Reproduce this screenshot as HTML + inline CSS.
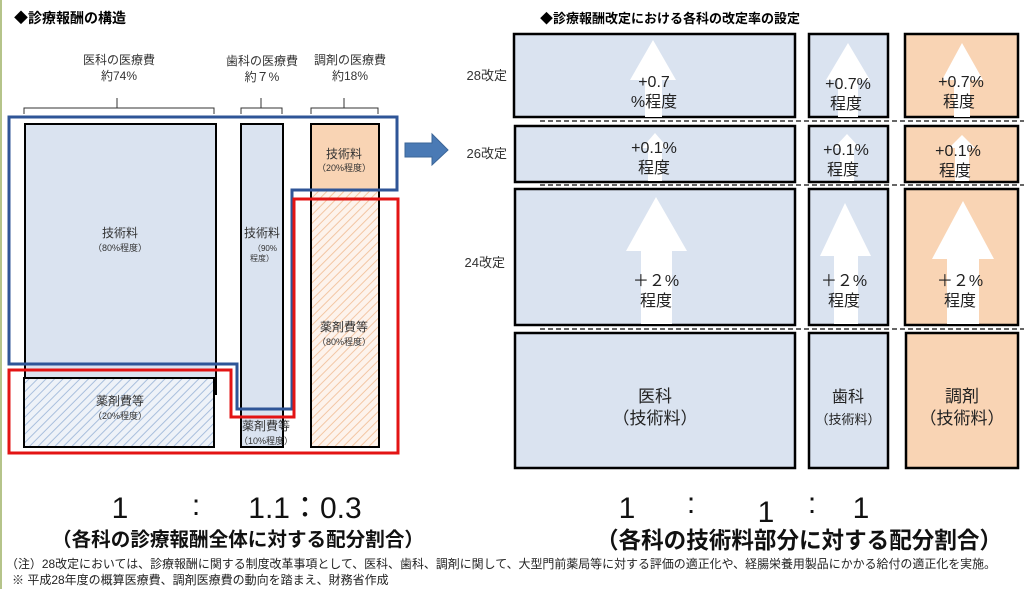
<!DOCTYPE html>
<html><head><meta charset="utf-8"><style>
html,body{margin:0;padding:0;background:#fff;}
svg{display:block;font-family:"Liberation Sans","Noto Sans CJK JP",sans-serif;}
</style></head><body>
<svg width="1024" height="589" viewBox="0 0 1024 589" xmlns="http://www.w3.org/2000/svg">
<defs>
<pattern id="hb" patternUnits="userSpaceOnUse" width="6" height="6" patternTransform="rotate(45)"><rect width="6" height="6" fill="#eef2f8"/><line x1="0" y1="0" x2="0" y2="6" stroke="#a9bfdd" stroke-width="2"/></pattern>
<pattern id="ho" patternUnits="userSpaceOnUse" width="6" height="6" patternTransform="rotate(45)"><rect width="6" height="6" fill="#fdf3ec"/><line x1="0" y1="0" x2="0" y2="6" stroke="#f3c6a4" stroke-width="2"/></pattern>
</defs>
<rect x="0" y="0" width="2" height="589" fill="#b5c48a"/>
<text x="14" y="23" font-size="14" font-weight="bold" fill="#000">◆診療報酬の構造</text>
<g font-size="12" fill="#333" text-anchor="middle">
<text x="119" y="64">医科の医療費</text><text x="119" y="80">約74%</text>
<text x="262" y="65">歯科の医療費</text><text x="262" y="81">約７%</text>
<text x="350" y="64">調剤の医療費</text><text x="350" y="80">約18%</text>
</g>
<g fill="none" stroke="#333" stroke-width="1">
<path d="M24 114 V108 H117 V98 M117 108 H214 V114"/>
<path d="M241 114 V108 H261 V98 M261 108 H282 V114"/>
<path d="M311 114 V108 H344 V98 M344 108 H378 V114"/>
</g>
<rect x="25" y="124" width="191" height="270" fill="#dae3f0" stroke="#000" stroke-width="2"/>
<rect x="24" y="378" width="190" height="69" fill="url(#hb)" stroke="#000" stroke-width="2"/>
<rect x="241" y="124" width="42" height="323" fill="#dae3f0" stroke="#000" stroke-width="2"/>
<rect x="311" y="124" width="68" height="323" fill="url(#ho)" stroke="#000" stroke-width="2"/>
<rect x="312" y="125" width="66" height="65" fill="#f9d4b4"/>
<g text-anchor="middle" fill="#333">
<text x="120" y="237" font-size="12">技術料</text><text x="120" y="251" font-size="9">（80%程度）</text>
<text x="262" y="237" font-size="12">技術料</text><text x="265" y="251" font-size="8">（90%</text><text x="262" y="261" font-size="8">程度）</text>
<text x="344" y="158" font-size="12">技術料</text><text x="344" y="171" font-size="9">（20%程度）</text>
<text x="344" y="331" font-size="12">薬剤費等</text><text x="344" y="345" font-size="9">（80%程度）</text>
<text x="120" y="405" font-size="12">薬剤費等</text><text x="120" y="419" font-size="9">（20%程度）</text>
<text x="266" y="430" font-size="12">薬剤費等</text><text x="266" y="444" font-size="9">（10%程度）</text>
</g>
<path d="M9 117 H397 V190 H292 V409 H237 V364 H9 Z" fill="none" stroke="#2f5597" stroke-width="3"/>
<path d="M9 370 H231 V417 H294 V199 H398 V453 H9 Z" fill="none" stroke="#e31414" stroke-width="3"/>
<path d="M405 143 H432 V134 L448 150 L432 165 V157 H405 Z" fill="#4a7ab5" stroke="#3b6598" stroke-width="1"/>
<text x="540" y="23" font-size="13" font-weight="bold" fill="#000">◆診療報酬改定における各科の改定率の設定</text>
<g font-size="13" fill="#333" text-anchor="end">
<text x="507" y="80">28改定</text><text x="507" y="158">26改定</text><text x="505" y="267">24改定</text>
</g>
<g stroke="#333" stroke-width="1.5" stroke-dasharray="5,3">
<line x1="540" y1="121" x2="1024" y2="121"/><line x1="540" y1="185" x2="1024" y2="185"/><line x1="540" y1="329" x2="1024" y2="329"/>
</g>
<g stroke="#000" stroke-width="2.5">
<rect x="514" y="34" width="281" height="83" fill="#dae3f0"/>
<rect x="809" y="34" width="79" height="83" fill="#dae3f0"/>
<rect x="905" y="34" width="113" height="83" fill="#f9d4b4"/>
<rect x="515" y="126" width="280" height="56" fill="#dae3f0"/>
<rect x="809" y="126" width="79" height="56" fill="#dae3f0"/>
<rect x="905" y="126" width="113" height="56" fill="#f9d4b4"/>
<rect x="515" y="189" width="280" height="136" fill="#dae3f0"/>
<rect x="809" y="189" width="79" height="136" fill="#dae3f0"/>
<rect x="905" y="189" width="113" height="136" fill="#f9d4b4"/>
<rect x="515" y="333" width="280" height="135" fill="#dae3f0"/>
<rect x="809" y="333" width="79" height="135" fill="#dae3f0"/>
<rect x="906" y="333" width="112" height="135" fill="#f9d4b4"/>
</g>
<g fill="#fff">
<path d="M645 117 V80 H630 L653 40 L676 80 H662 V117 Z"/>
<path d="M838 117 V80 H826 L848 43 L870 80 H858 V117 Z"/>
<path d="M954 117 V80 H942 L962 43 L983 80 H970 V117 Z"/>
<path d="M648 181 V148 H642 L655 133 L668 148 H662 V181 Z"/>
<path d="M840 181 V148 H834 L847 134 L860 148 H854 V181 Z"/>
<path d="M955 181 V148 H949 L962 135 L975 148 H969 V181 Z"/>
<path d="M641 324 V251 H626 L656 197 L687 251 H672 V324 Z"/>
<path d="M834 324 V256 H820 L845 203 L871 256 H858 V324 Z"/>
<path d="M947 324 V259 H932 L963 201 L994 259 H979 V324 Z"/>
</g>
<g fill="#222" text-anchor="middle" font-size="16">
<text x="654" y="87">+0.7</text><text x="654" y="107">%程度</text>
<text x="848" y="89">+0.7%</text><text x="846" y="109">程度</text>
<text x="961" y="87">+0.7%</text><text x="959" y="107">程度</text>
<text x="654" y="153">+0.1%</text><text x="654" y="173">程度</text>
<text x="846" y="155">+0.1%</text><text x="843" y="175">程度</text>
<text x="958" y="156">+0.1%</text><text x="955" y="176">程度</text>
<text x="656" y="286">＋２%</text><text x="656" y="306">程度</text>
<text x="844" y="286">＋２%</text><text x="844" y="306">程度</text>
<text x="960" y="286">＋２%</text><text x="960" y="306">程度</text>
<text x="655" y="402" font-size="17">医科</text><text x="655" y="424" font-size="17">（技術料）</text>
<text x="848" y="402" font-size="16">歯科</text><text x="848" y="424" font-size="13">（技術料）</text>
<text x="962" y="402" font-size="17">調剤</text><text x="962" y="424" font-size="17">（技術料）</text>
</g>
<g fill="#111" font-size="30" text-anchor="middle">
<text x="120" y="518">1</text><text x="196" y="515">:</text><text x="305" y="518">1.1：0.3</text>
<text x="627" y="518">1</text><text x="691" y="513">:</text><text x="766" y="522">1</text><text x="812" y="513">:</text><text x="861" y="518">1</text>
</g>
<g fill="#111" font-weight="bold">
<text x="52" y="546" font-size="19.5" textLength="372" lengthAdjust="spacingAndGlyphs">（各科の診療報酬全体に対する配分割合）</text>
<text x="596" y="548" font-size="23" textLength="406" lengthAdjust="spacingAndGlyphs">（各科の技術料部分に対する配分割合）</text>
</g>
<g fill="#222" font-size="12">
<text x="6" y="568" textLength="990" lengthAdjust="spacingAndGlyphs">（注）28改定においては、診療報酬に関する制度改革事項として、医科、歯科、調剤に関して、大型門前薬局等に対する評価の適正化や、経腸栄養用製品にかかる給付の適正化を実施。</text>
<text x="12" y="584">※ 平成28年度の概算医療費、調剤医療費の動向を踏まえ、財務省作成</text>
</g>
</svg>
</body></html>
